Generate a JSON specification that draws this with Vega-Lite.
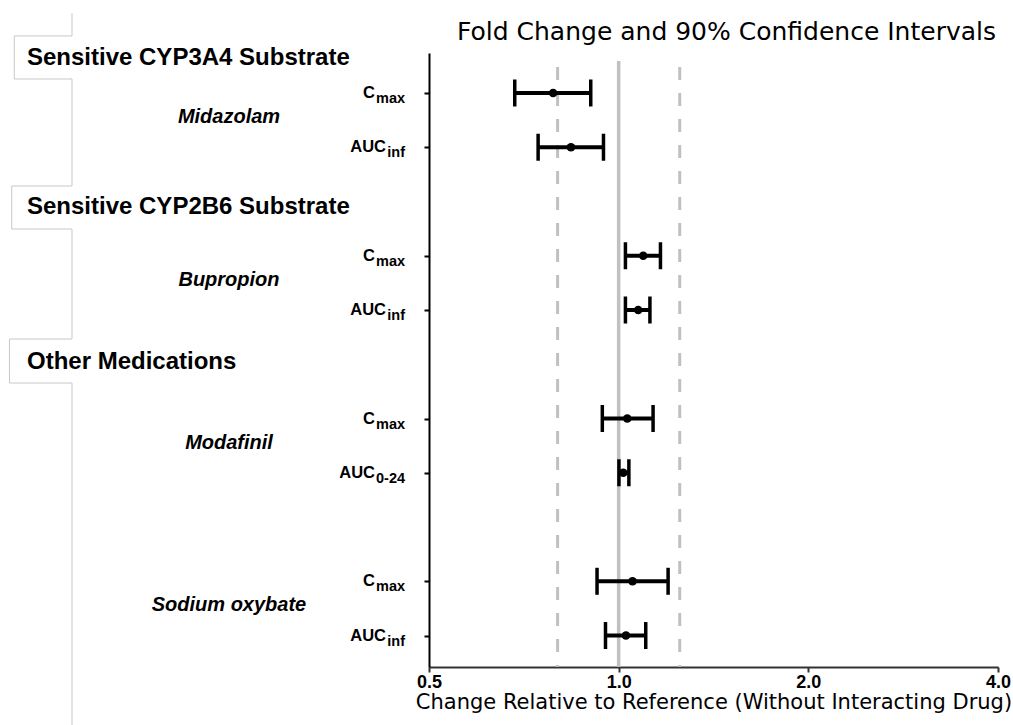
{
  "$schema": "https://vega.github.io/schema/vega-lite/v6.json",
  "padding": {"left": 0, "top": 10, "right": 5, "bottom": 0},
  "background": "white",
  "spacing": 0,
  "bounds": "flush",
  "config": {"view": {"stroke": null}},
  "datasets": {
    "pk": [
      {"group": "Sensitive CYP3A4 Substrate", "drug": "Midazolam", "main": "C", "sub": "max", "row": 0, "fc": 0.787, "lo": 0.684, "hi": 0.903},
      {"group": "Sensitive CYP3A4 Substrate", "drug": "Midazolam", "main": "AUC", "sub": "inf", "row": 1, "fc": 0.840, "lo": 0.745, "hi": 0.946},
      {"group": "Sensitive CYP2B6 Substrate", "drug": "Bupropion", "main": "C", "sub": "max", "row": 3, "fc": 1.094, "lo": 1.025, "hi": 1.165},
      {"group": "Sensitive CYP2B6 Substrate", "drug": "Bupropion", "main": "AUC", "sub": "inf", "row": 4, "fc": 1.074, "lo": 1.025, "hi": 1.121},
      {"group": "Other Medications", "drug": "Modafinil", "main": "C", "sub": "max", "row": 6, "fc": 1.032, "lo": 0.942, "hi": 1.134},
      {"group": "Other Medications", "drug": "Modafinil", "main": "AUC", "sub": "0-24", "row": 7, "fc": 1.017, "lo": 1.001, "hi": 1.038},
      {"group": "Other Medications", "drug": "Sodium oxybate", "main": "C", "sub": "max", "row": 9, "fc": 1.052, "lo": 0.924, "hi": 1.198},
      {"group": "Other Medications", "drug": "Sodium oxybate", "main": "AUC", "sub": "inf", "row": 10, "fc": 1.027, "lo": 0.953, "hi": 1.104}
    ],
    "refs": [
      {"ref": 1.0, "kind": "solid", "top": -0.59, "bottom": 10.58},
      {"ref": 0.8, "kind": "dashed", "top": -0.479, "bottom": 10.58},
      {"ref": 1.25, "kind": "dashed", "top": -0.479, "bottom": 10.58}
    ],
    "headers": [
      {"header": "Sensitive CYP3A4 Substrate", "row": -0.65},
      {"header": "Sensitive CYP2B6 Substrate", "row": 2.11},
      {"header": "Other Medications", "row": 4.96}
    ],
    "bracket": [
      {"i": 1, "bx": 16.78, "row": -1.475},
      {"i": 2, "bx": 16.78, "row": -1.051},
      {"i": 3, "bx": 3.33, "row": -1.051},
      {"i": 4, "bx": 3.33, "row": -0.258},
      {"i": 5, "bx": 16.78, "row": -0.258},
      {"i": 6, "bx": 16.78, "row": 1.714},
      {"i": 7, "bx": 2.73, "row": 1.714},
      {"i": 8, "bx": 2.73, "row": 2.507},
      {"i": 9, "bx": 16.78, "row": 2.507},
      {"i": 10, "bx": 16.78, "row": 4.535},
      {"i": 11, "bx": 2.21, "row": 4.535},
      {"i": 12, "bx": 2.21, "row": 5.346},
      {"i": 13, "bx": 16.78, "row": 5.346},
      {"i": 14, "bx": 16.78, "row": 11.668}
    ]
  },
  "hconcat": [
    {
      "width": 429,
      "height": 614,
      "encoding": {
        "y": {"field": "row", "type": "quantitative", "scale": {"domain": [-0.737, 10.58], "reverse": true, "nice": false, "zero": false}, "axis": null}
      },
      "layer": [
        {
          "data": {"name": "bracket"},
          "mark": {"type": "line", "stroke": "#c8c8c8", "strokeWidth": 1, "interpolate": "linear"},
          "encoding": {
            "x": {"field": "bx", "type": "quantitative", "scale": {"domain": [0, 100], "nice": false, "zero": false}, "axis": null},
            "order": {"field": "i", "type": "quantitative"}
          }
        },
        {
          "data": {"name": "headers"},
          "mark": {"type": "text", "align": "left", "baseline": "middle", "font": "Liberation Sans", "fontWeight": "bold", "fontSize": 24, "color": "#000"},
          "encoding": {
            "x": {"datum": 6.29},
            "text": {"field": "header"}
          }
        },
        {
          "data": {"name": "pk"},
          "mark": {"type": "text", "align": "center", "baseline": "middle", "dy": -3, "font": "Liberation Sans", "fontWeight": "bold", "fontStyle": "italic", "fontSize": 20, "color": "#000"},
          "encoding": {
            "x": {"datum": 53.38},
            "y": {"aggregate": "mean", "field": "row", "type": "quantitative"},
            "text": {"field": "drug"}
          }
        },
        {
          "data": {"name": "pk"},
          "transform": [{"filter": "datum.sub == 'max'"}],
          "mark": {"type": "text", "align": "right", "baseline": "middle", "dx": -30, "font": "Liberation Sans", "fontWeight": "bold", "fontSize": 16.5, "color": "#000"},
          "encoding": {"x": {"datum": 94.41}, "text": {"field": "main"}}
        },
        {
          "data": {"name": "pk"},
          "transform": [{"filter": "datum.sub == 'inf'"}],
          "mark": {"type": "text", "align": "right", "baseline": "middle", "dx": -19, "font": "Liberation Sans", "fontWeight": "bold", "fontSize": 16.5, "color": "#000"},
          "encoding": {"x": {"datum": 94.41}, "text": {"field": "main"}}
        },
        {
          "data": {"name": "pk"},
          "transform": [{"filter": "datum.sub == '0-24'"}],
          "mark": {"type": "text", "align": "right", "baseline": "middle", "dx": -30, "font": "Liberation Sans", "fontWeight": "bold", "fontSize": 16.5, "color": "#000"},
          "encoding": {"x": {"datum": 94.41}, "text": {"field": "main"}}
        },
        {
          "data": {"name": "pk"},
          "mark": {"type": "text", "align": "right", "baseline": "alphabetic", "dy": 10, "font": "Liberation Sans", "fontWeight": "bold", "fontSize": 14.5, "color": "#000"},
          "encoding": {"x": {"datum": 94.41}, "text": {"field": "sub"}}
        }
      ]
    },
    {
      "width": 569,
      "height": 614,
      "title": {"text": "Fold Change and 90% Confidence Intervals", "font": "DejaVu Sans", "fontSize": 25, "fontWeight": "normal", "color": "#000", "anchor": "middle", "offset": 8, "dx": 13},
      "encoding": {
        "y": {"field": "row", "type": "quantitative", "scale": {"domain": [-0.737, 10.58], "reverse": true, "nice": false, "zero": false},
          "axis": {"values": [0, 1, 3, 4, 6, 7, 9, 10], "labels": false, "title": null, "grid": false, "ticks": true, "tickSize": 5, "tickWidth": 2, "tickColor": "#000", "domainColor": "#000", "domainWidth": 2}}
      },
      "layer": [
        {
          "data": {"name": "refs"},
          "transform": [{"filter": "datum.kind == 'solid'"}],
          "mark": {"type": "rule", "color": "#c0c0c0", "strokeWidth": 3.5},
          "encoding": {
            "x": {"field": "ref", "type": "quantitative", "scale": {"type": "log", "domain": [0.5, 4], "nice": false},
              "axis": {"values": [0.5, 1, 2, 4], "format": ".1f", "labelFlush": false, "labelOverlap": false, "labelFont": "Liberation Sans", "labelFontWeight": "bold", "labelFontSize": 18, "labelColor": "#000", "labelPadding": 1, "tickSize": 5, "tickWidth": 2, "tickColor": "#333", "domainColor": "#333", "domainWidth": 2, "grid": false,
                "title": "Change Relative to Reference (Without Interacting Drug)", "titleFont": "DejaVu Sans", "titleFontSize": 21, "titleFontWeight": "normal", "titleColor": "#000", "titlePadding": 0}},
            "y": {"field": "top", "type": "quantitative"},
            "y2": {"field": "bottom"}
          }
        },
        {
          "data": {"name": "refs"},
          "transform": [{"filter": "datum.kind == 'dashed'"}],
          "mark": {"type": "rule", "color": "#c0c0c0", "strokeWidth": 3, "strokeDash": [13, 13]},
          "encoding": {
            "x": {"field": "ref", "type": "quantitative"},
            "y": {"field": "top", "type": "quantitative"},
            "y2": {"field": "bottom"}
          }
        },
        {
          "data": {"name": "pk"},
          "mark": {"type": "rule", "color": "#000", "strokeWidth": 4},
          "encoding": {
            "x": {"field": "lo", "type": "quantitative"},
            "x2": {"field": "hi"}
          }
        },
        {
          "data": {"name": "pk"},
          "mark": {"type": "tick", "orient": "vertical", "color": "#000", "size": 27, "thickness": 3.5, "opacity": 1},
          "encoding": {"x": {"field": "lo", "type": "quantitative"}}
        },
        {
          "data": {"name": "pk"},
          "mark": {"type": "tick", "orient": "vertical", "color": "#000", "size": 27, "thickness": 3.5, "opacity": 1},
          "encoding": {"x": {"field": "hi", "type": "quantitative"}}
        },
        {
          "data": {"name": "pk"},
          "mark": {"type": "circle", "color": "#000", "size": 75, "opacity": 1},
          "encoding": {"x": {"field": "fc", "type": "quantitative"}}
        }
      ]
    }
  ]
}
